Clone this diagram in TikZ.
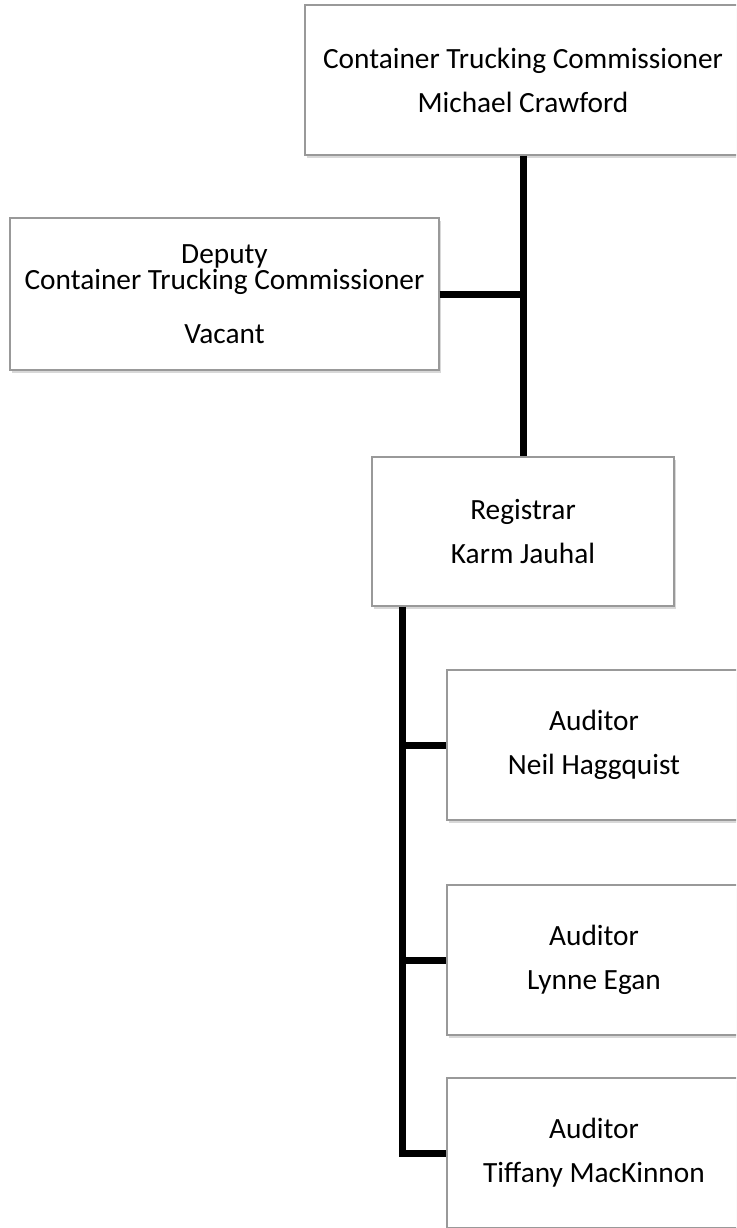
\documentclass[tikz,border=0pt]{standalone}
\usepackage{fontspec}
\setmainfont{Carlito}
\usetikzlibrary{shadows}

\begin{document}
\begin{tikzpicture}[x=0.75pt,y=-0.75pt]
\tikzstyle{orgbox}=[draw=black!40,line width=1.1pt,fill=white,align=center,
  inner sep=0pt,font=\fontsize{22}{33}\selectfont,
  drop shadow={shadow xshift=1.5pt,shadow yshift=-2pt,fill=black!30}]
\tikzstyle{orgline}=[line width=5.25pt]
\useasboundingbox (0,0) rectangle (736,1228);
\clip (0,0) rectangle (736,1228);
 % commissioner and deputy
 \node [orgbox,minimum width=327pt,minimum height=112.5pt] (comm) at (523,80)
   {Container Trucking Commissioner\\Michael Crawford};
 \node [orgbox,minimum width=321.75pt,minimum height=114pt] (deputy) at (224.5,294)
   {Deputy\\[-13pt]Container Trucking Commissioner\\[7pt]Vacant};
 \node [orgbox,minimum width=226.5pt,minimum height=111.75pt] (registrar) at (523,531.5)
   {Registrar\\Karm Jauhal};
 % auditors
 \node [orgbox,minimum width=220.5pt,minimum height=112.5pt] (aud1) at (594,745)
   {Auditor\\Neil Haggquist};
 \node [orgbox,minimum width=220.5pt,minimum height=112.5pt] (aud2) at (594,960)
   {Auditor\\Lynne Egan};
 \node [orgbox,minimum width=220.5pt,minimum height=112.5pt] (aud3) at (594,1153)
   {Auditor\\Tiffany MacKinnon};
 % connectors
 \coordinate (hub) at (comm.south |- deputy.east);
 \coordinate (trunk) at ([xshift=23.25pt]registrar.south west);
 \draw [orgline] (comm.south) -- (registrar.north);
 \draw [orgline] (deputy.east) -- (hub);
 \draw [orgline] (trunk) |- (aud3.west);
 \draw [orgline] (trunk |- aud1.west) -- (aud1.west);
 \draw [orgline] (trunk |- aud2.west) -- (aud2.west);
\end{tikzpicture}
\end{document}
